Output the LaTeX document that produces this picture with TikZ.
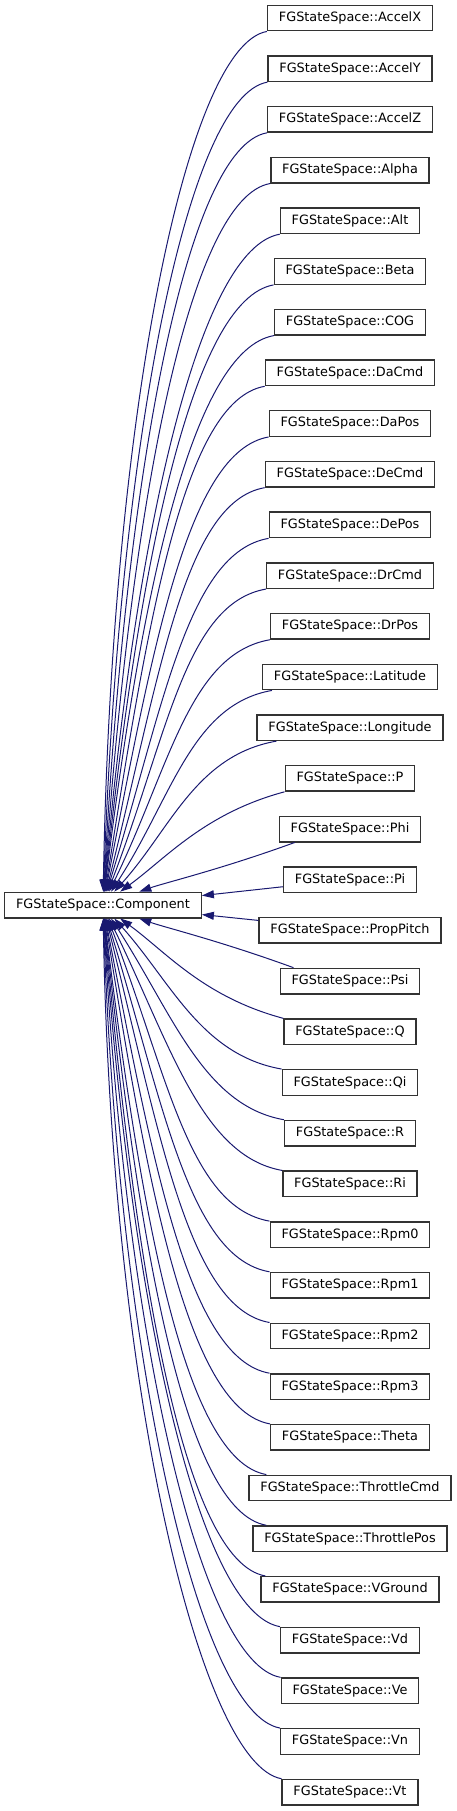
\documentclass[tikz,border=0pt]{standalone}
\usepackage{fontspec}
\setmainfont{DejaVu Sans}
\usepackage{tikz}
\usetikzlibrary{arrows.meta,positioning}
\definecolor{edgeblue}{HTML}{191970}
\tikzset{
	defaultstyle/.style={
		x=1bp, y=1bp,
		>={Triangle[length=12bp,width=8bp]},
		font=\fontsize{12.9pt}{15pt}\selectfont}}

\begin{document}
\begin{tikzpicture}[defaultstyle,
	myclass/.style={draw=black!80, line width=1.4bp, fill=white, inner xsep=11.3bp, inner ysep=0pt, minimum height=25.5bp},
	myedge/.style={->, draw=edgeblue, line width=1bp},
	]
	
	\useasboundingbox (0,0) rectangle (457,-1811);
	
	\node[myclass] (comp) at (103, -905.07) {FGStateSpace::Component};
	
	\node[myclass] (cAccelX) at (350, -18.00) {FGStateSpace::AccelX};
	\node[myclass] (cAccelY) at (350, -68.69) {FGStateSpace::AccelY};
	\node[myclass] (cAccelZ) at (350, -119.38) {FGStateSpace::AccelZ};
	\node[myclass] (cAlpha) at (350, -170.07) {FGStateSpace::Alpha};
	\node[myclass] (cAlt) at (350, -220.76) {FGStateSpace::Alt};
	\node[myclass] (cBeta) at (350, -271.45) {FGStateSpace::Beta};
	\node[myclass] (cCOG) at (350, -322.14) {FGStateSpace::COG};
	\node[myclass] (cDaCmd) at (350, -372.83) {FGStateSpace::DaCmd};
	\node[myclass] (cDaPos) at (350, -423.52) {FGStateSpace::DaPos};
	\node[myclass] (cDeCmd) at (350, -474.21) {FGStateSpace::DeCmd};
	\node[myclass] (cDePos) at (350, -524.90) {FGStateSpace::DePos};
	\node[myclass] (cDrCmd) at (350, -575.59) {FGStateSpace::DrCmd};
	\node[myclass] (cDrPos) at (350, -626.28) {FGStateSpace::DrPos};
	\node[myclass] (cLatitude) at (350, -676.97) {FGStateSpace::Latitude};
	\node[myclass] (cLongitude) at (350, -727.66) {FGStateSpace::Longitude};
	\node[myclass] (cP) at (350, -778.35) {FGStateSpace::P};
	\node[myclass] (cPhi) at (350, -829.04) {FGStateSpace::Phi};
	\node[myclass] (cPi) at (350, -879.73) {FGStateSpace::Pi};
	\node[myclass] (cPropPitch) at (350, -930.42) {FGStateSpace::PropPitch};
	\node[myclass] (cPsi) at (350, -981.11) {FGStateSpace::Psi};
	\node[myclass] (cQ) at (350, -1031.80) {FGStateSpace::Q};
	\node[myclass] (cQi) at (350, -1082.49) {FGStateSpace::Qi};
	\node[myclass] (cR) at (350, -1133.18) {FGStateSpace::R};
	\node[myclass] (cRi) at (350, -1183.87) {FGStateSpace::Ri};
	\node[myclass] (cRpm0) at (350, -1234.56) {FGStateSpace::Rpm0};
	\node[myclass] (cRpm1) at (350, -1285.25) {FGStateSpace::Rpm1};
	\node[myclass] (cRpm2) at (350, -1335.94) {FGStateSpace::Rpm2};
	\node[myclass] (cRpm3) at (350, -1386.63) {FGStateSpace::Rpm3};
	\node[myclass] (cTheta) at (350, -1437.32) {FGStateSpace::Theta};
	\node[myclass] (cThrottleCmd) at (350, -1488.01) {FGStateSpace::ThrottleCmd};
	\node[myclass] (cThrottlePos) at (350, -1538.70) {FGStateSpace::ThrottlePos};
	\node[myclass] (cVGround) at (350, -1589.39) {FGStateSpace::VGround};
	\node[myclass] (cVd) at (350, -1640.08) {FGStateSpace::Vd};
	\node[myclass] (cVe) at (350, -1690.77) {FGStateSpace::Ve};
	\node[myclass] (cVn) at (350, -1741.46) {FGStateSpace::Vn};
	\node[myclass] (cVt) at (350, -1792.15) {FGStateSpace::Vt};
	
	\draw[myedge] (cAccelX.south west) .. controls +(190:82) and +(89:474) .. ([xshift=0.2bp]comp.north);
	\draw[myedge] (cAccelY.south west) .. controls +(190:82) and +(88:446) .. ([xshift=0.4bp]comp.north);
	\draw[myedge] (cAccelZ.south west) .. controls +(190:82) and +(87:418) .. ([xshift=0.7bp]comp.north);
	\draw[myedge] (cAlpha.south west) .. controls +(190:82) and +(86:390) .. ([xshift=0.9bp]comp.north);
	\draw[myedge] (cAlt.south west) .. controls +(190:82) and +(85:362) .. ([xshift=1.1bp]comp.north);
	\draw[myedge] (cBeta.south west) .. controls +(190:82) and +(84:335) .. ([xshift=1.3bp]comp.north);
	\draw[myedge] (cCOG.south west) .. controls +(190:82) and +(83:307) .. ([xshift=1.5bp]comp.north);
	\draw[myedge] (cDaCmd.south west) .. controls +(190:82) and +(81:279) .. ([xshift=2.0bp]comp.north);
	\draw[myedge] (cDaPos.south west) .. controls +(190:82) and +(79:251) .. ([xshift=2.4bp]comp.north);
	\draw[myedge] (cDeCmd.south west) .. controls +(190:82) and +(76:223) .. ([xshift=3.1bp]comp.north);
	\draw[myedge] (cDePos.south west) .. controls +(190:82) and +(73:195) .. ([xshift=3.8bp]comp.north);
	\draw[myedge] (cDrCmd.south west) .. controls +(190:82) and +(69:167) .. ([xshift=4.8bp]comp.north);
	\draw[myedge] (cDrPos.south west) .. controls +(190:82) and +(64:139) .. ([xshift=6.1bp]comp.north);
	\draw[myedge] ([xshift=10bp]cLatitude.south west) .. controls +(190:82) and +(57:112) .. ([xshift=8.1bp]comp.north);
	\draw[myedge] ([xshift=20bp]cLongitude.south west) .. controls +(190:82) and +(48:84) .. ([xshift=11.3bp]comp.north);
	\draw[myedge] (cP.south west) .. controls +(195:83) and +(36:56) .. ([xshift=17.2bp]comp.north);
	\draw[myedge] ([xshift=16bp]cPhi.south west) .. controls +(200:78) and +(19:28) .. ([xshift=36.3bp]comp.north);
	
	\draw[myedge] ([yshift=-7bp]cPi.west) -- ([yshift=9.5bp]comp.east);
	\draw[myedge] ([yshift=10bp]cPropPitch.west) -- ([yshift=-9.5bp]comp.east);
	
	\draw[myedge] ([xshift=14bp]cPsi.north west) .. controls +(160:78) and +(-19:28) .. ([xshift=36.3bp]comp.south);
	\draw[myedge] (cQ.north west) .. controls +(165:83) and +(-36:56) .. ([xshift=17.2bp]comp.south);
	\draw[myedge] (cQi.north west) .. controls +(170:82) and +(-48:84) .. ([xshift=11.3bp]comp.south);
	\draw[myedge] (cR.north west) .. controls +(170:82) and +(-57:112) .. ([xshift=8.1bp]comp.south);
	\draw[myedge] (cRi.north west) .. controls +(170:82) and +(-64:139) .. ([xshift=6.1bp]comp.south);
	\draw[myedge] (cRpm0.north west) .. controls +(170:82) and +(-69:167) .. ([xshift=4.8bp]comp.south);
	\draw[myedge] (cRpm1.north west) .. controls +(170:82) and +(-73:195) .. ([xshift=3.8bp]comp.south);
	\draw[myedge] (cRpm2.north west) .. controls +(170:82) and +(-76:223) .. ([xshift=3.1bp]comp.south);
	\draw[myedge] (cRpm3.north west) .. controls +(170:82) and +(-79:251) .. ([xshift=2.4bp]comp.south);
	\draw[myedge] (cTheta.north west) .. controls +(170:82) and +(-81:279) .. ([xshift=2.0bp]comp.south);
	\draw[myedge] ([xshift=18bp]cThrottleCmd.north west) .. controls +(170:82) and +(-83:307) .. ([xshift=1.5bp]comp.south);
	\draw[myedge] ([xshift=14bp]cThrottlePos.north west) .. controls +(170:82) and +(-84:335) .. ([xshift=1.3bp]comp.south);
	\draw[myedge] ([xshift=5bp]cVGround.north west) .. controls +(170:82) and +(-85:362) .. ([xshift=1.1bp]comp.south);
	\draw[myedge] (cVd.north west) .. controls +(170:82) and +(-86:390) .. ([xshift=0.9bp]comp.south);
	\draw[myedge] (cVe.north west) .. controls +(170:82) and +(-87:418) .. ([xshift=0.7bp]comp.south);
	\draw[myedge] (cVn.north west) .. controls +(170:82) and +(-88:446) .. ([xshift=0.4bp]comp.south);
	\draw[myedge] (cVt.north west) .. controls +(170:82) and +(-89:474) .. ([xshift=0.2bp]comp.south);
	
\end{tikzpicture}
\end{document}
